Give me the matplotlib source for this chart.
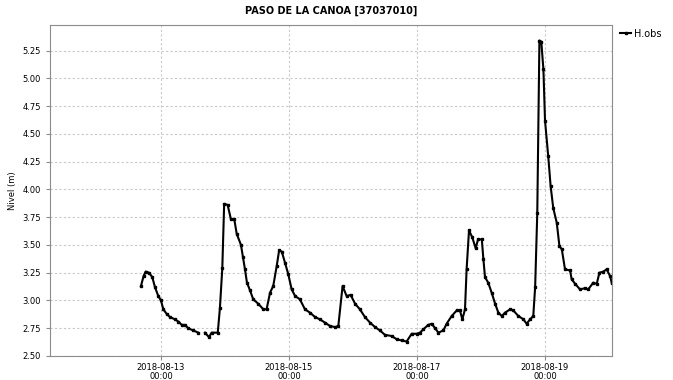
import numpy as np
import pandas as pd
import matplotlib
matplotlib.use("Agg")
import matplotlib.pyplot as plt
import matplotlib.dates as mdates

inicio = pd.Timestamp("2018-08-13 00:00")
horas = [-7.5, -6.5, -5.75, -4.5, -3.25, -2.25, -1, 0, 0.9, 2.1, 3.4, 5.25, 6.5, 7.8, 9,
         10.2, 12.1, 14, 15, 16.5, 18, 19, 21.3, 22.1, 23, 23.7, 25, 26.25, 27.5, 28.4,
         30, 30.75, 31.5, 32.25, 33.4, 34.6, 36.5, 38.4, 39.6, 40.9, 42.1, 43.4, 44.3, 45.3,
         46.5, 47.7, 49, 50.3, 52.1, 54, 55.9, 57.8, 59.6, 61.5, 63.4, 65.3, 66.5, 68.1,
         69.6, 71.1, 72.8, 74.6, 76.5, 78.4, 80.3, 82.1, 84, 86.5, 88.4, 90.3, 92.1, 94,
         95.9, 97.1, 98.4, 100.2, 101.5, 102.8, 104, 105.9, 107.1, 109, 110.9, 112.1, 113,
         114, 114.6, 115.5, 116.7, 118, 118.9, 120.3, 120.9, 121.5, 122.7, 124, 125.3,
         126.5, 127.8, 129, 130.9, 132.1, 134, 135.9, 137.1, 138.4, 139.6, 140.3, 141.1,
         141.9, 142.6, 143.4, 144, 145.2, 146.1, 147.1, 148.4, 149.4, 150.3, 151.5, 153.4,
         154, 155.3, 157.1, 159, 160.2, 162.1, 163.4, 164.4, 165.9, 167.1, 168.4, 169]
nivel = [3.13, 3.22, 3.26, 3.25, 3.21, 3.12, 3.04, 3.00, 2.92, 2.88, 2.85, 2.83, 2.81, 2.78, 2.78,
         2.75, 2.73, 2.71, np.nan, 2.71, 2.67, 2.71, 2.71, 2.93, 3.29, 3.87, 3.86, 3.73, 3.73, 3.60,
         3.50, 3.39, 3.28, 3.16, 3.09, 3.01, 2.97, 2.92, 2.92, 3.07, 3.13, 3.31, 3.45, 3.44,
         3.34, 3.24, 3.10, 3.04, 3.01, 2.92, 2.89, 2.85, 2.83, 2.80, 2.77, 2.76, 2.77, 3.13,
         3.04, 3.05, 2.97, 2.92, 2.85, 2.80, 2.76, 2.73, 2.69, 2.68, 2.65, 2.64, 2.63, 2.70,
         2.70, 2.71, 2.74, 2.78, 2.79, 2.75, 2.71, 2.73, 2.79, 2.86, 2.91, 2.91, 2.83,
         2.92, 3.28, 3.63, 3.57, 3.47, 3.55, 3.55, 3.37, 3.21, 3.16, 3.07, 2.97,
         2.89, 2.86, 2.89, 2.92, 2.91, 2.86, 2.83, 2.79, 2.83, 2.86, 3.12, 3.79,
         5.34, 5.33, 5.08, 4.62, 4.30, 4.03, 3.83, 3.70, 3.49, 3.46, 3.28, 3.27,
         3.19, 3.15, 3.10, 3.11, 3.10, 3.16, 3.15, 3.25, 3.26, 3.28, 3.22, 3.16]

fechas = inicio + pd.to_timedelta(horas, unit="h")
ticks_x = ["2018-08-13", "2018-08-15", "2018-08-17", "2018-08-19"]
ticks_y = [2.50, 2.75, 3.00, 3.25, 3.50, 3.75, 4.00, 4.25, 4.50, 4.75, 5.00, 5.25]

plt.rcParams["font.family"] = ["DejaVu Sans"]
fig = plt.figure(figsize=(6.73, 3.80), dpi=100)
ax = fig.add_axes([0.0743, 0.0632, 0.835, 0.8710])

ax.plot(fechas, nivel, color="black", lw=1.5, marker="s", ms=1.6, label="H.obs")

ax.set_ylim(2.5, 5.48)
ax.set_xlim(inicio - pd.Timedelta(hours=41.6), inicio + pd.Timedelta(hours=169.1))
ax.set_yticks(ticks_y)
ax.set_yticklabels(["%.2f" % t for t in ticks_y])
ax.set_xticks([pd.Timestamp(t) for t in ticks_x])
ax.xaxis.set_major_formatter(mdates.DateFormatter("%Y-%m-%d\n%H:%M"))

ax.grid(True, color="#c8c8c8", ls=(0, (2, 2)), lw=0.8)
for s in ax.spines.values():
    s.set_color("#8c8c8c")
ax.tick_params(colors="#8c8c8c", labelcolor="black", labelsize=6, length=3, width=0.8)
ax.tick_params(axis="x", pad=2)
for lab in ax.get_xticklabels():
    lab.set_linespacing(1.05)

ax.set_ylabel("Nivel (m)", fontsize=6)
ax.set_title("PASO DE LA CANOA [37037010]", fontsize=7, fontweight="bold", pad=8)

fig.legend(loc="upper left", bbox_to_anchor=(0.915, 0.935), frameon=False, fontsize=7,
           handlelength=1.2, handletextpad=0.3, borderaxespad=0)

fig.savefig("out.png", dpi=100)
